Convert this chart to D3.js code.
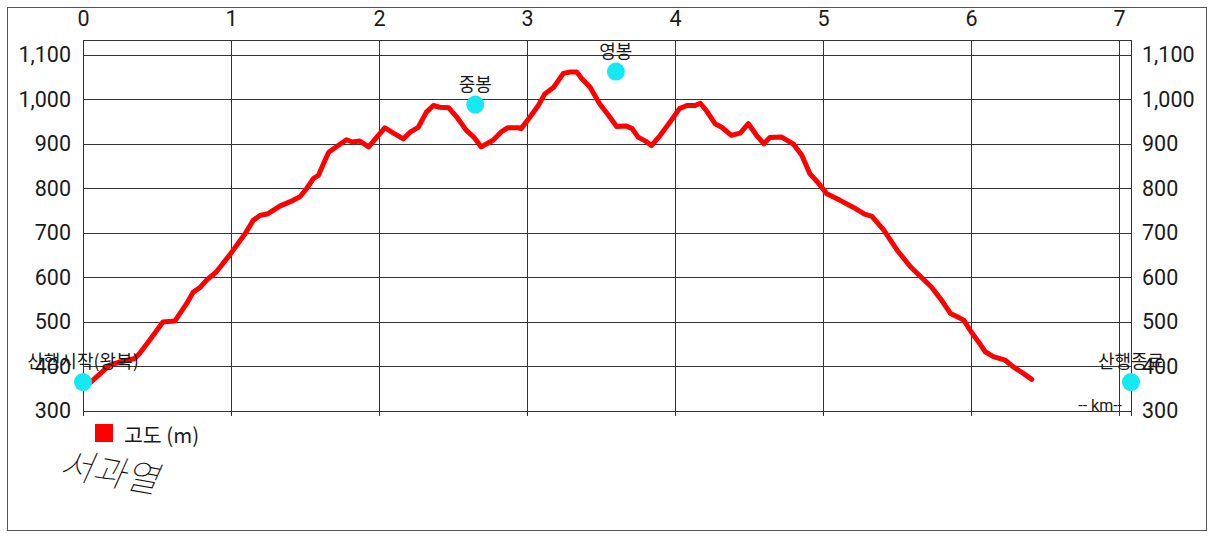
<!DOCTYPE html>
<html><head><meta charset="utf-8">
<script src="https://cdn.jsdelivr.net/npm/d3@7"></script>
<style>
html,body{margin:0;padding:0;background:#fff;}
svg{display:block;}
</style></head>
<body>
<svg id="c" width="1214" height="539"></svg>
<script>
// ---- data ----
const distKm = [0.047,0.18,0.25,0.35,0.385,0.45,0.54,0.62,0.70,0.745,0.79,0.835,0.90,0.99,1.095,1.15,1.195,1.25,1.33,1.42,1.466,1.51,1.556,1.59,1.635,1.66,1.714,1.78,1.82,1.87,1.93,1.985,2.04,2.097,2.164,2.21,2.265,2.32,2.367,2.41,2.47,2.525,2.59,2.64,2.69,2.77,2.83,2.87,2.94,2.96,3.02,3.076,3.12,3.18,3.245,3.29,3.336,3.37,3.426,3.49,3.55,3.605,3.67,3.71,3.75,3.80,3.84,3.90,3.966,4.03,4.08,4.135,4.17,4.21,4.27,4.315,4.38,4.44,4.495,4.55,4.60,4.64,4.72,4.80,4.856,4.91,4.957,5.025,5.115,5.205,5.28,5.33,5.41,5.50,5.59,5.67,5.73,5.80,5.86,5.91,5.95,6.00,6.05,6.095,6.15,6.23,6.285,6.35,6.41];
const elevM = [363,403,410,418,430,459,500,502,541,567,577,594,612,650,698,728,739,743,760,773,781,799,822,829,863,881,894,909,904,906,893,915,936,924,911,926,937,971,986,982,981,960,930,915,893,908,928,936,936,934,960,986,1012,1027,1058,1061,1061,1046,1027,990,964,939,940,934,915,906,896,919,949,979,986,986,991,975,945,937,919,924,945,919,900,914,915,899,874,833,816,788,773,757,742,737,706,661,624,598,579,549,519,511,504,478,455,433,422,414,399,385,371];
const markerNames = ["산행시작(왕복)", "중봉", "영봉", "산행종료"];
const markerKm = [0, 2.65, 3.6, 7.08];
const markerElev = [365, 988, 1062, 365];
const xTicks = [0,1,2,3,4,5,6,7];
const yTicks = [300,400,500,600,700,800,900,1000,1100];
const xDomain = [0, 7.08];
const yDomain = [300, 1133];
const legendLabel = "고도 (m)";
const unitLabel = "-- km--";
const signature = "서과열";

// ---- layout ----
const L = 83, R = 1131, T = 40, B = 411;
const svg = d3.select("#c");
const x = d3.scaleLinear().domain(xDomain).range([L, R]);
const y = d3.scaleLinear().domain(yDomain).range([B, T]);
const numFont = "Roboto, 'Noto Sans', sans-serif";
const krFont = "'Noto Sans CJK KR', 'Noto Sans', sans-serif";

// outer frame
svg.append("rect").attr("x", 7.5).attr("y", 7.5).attr("width", 1199).attr("height", 523)
  .attr("fill", "#fff").attr("stroke", "#555").attr("stroke-width", 1);

const grid = svg.append("g").attr("stroke", "#333").attr("stroke-width", 1).attr("shape-rendering", "crispEdges");
grid.selectAll("line.h").data(yTicks).join("line").attr("class", "h")
  .attr("x1", L).attr("x2", R).attr("y1", d => Math.round(y(d)) + 0.5).attr("y2", d => Math.round(y(d)) + 0.5);
grid.append("line").attr("x1", L).attr("x2", R).attr("y1", T + 0.5).attr("y2", T + 0.5);
grid.selectAll("line.v").data(xTicks).join("line").attr("class", "v")
  .attr("x1", d => Math.round(x(d)) + 0.5).attr("x2", d => Math.round(x(d)) + 0.5)
  .attr("y1", T).attr("y2", B + 5);
grid.append("line").attr("x1", R + 0.5).attr("x2", R + 0.5).attr("y1", T).attr("y2", B + 5);

// axes
const topAx = svg.append("g").attr("transform", `translate(0,${T})`)
  .call(d3.axisTop(x).tickValues(xTicks).tickSize(0).tickPadding(14).tickFormat(d3.format("d")));
const leftAx = svg.append("g").attr("transform", `translate(${L},0)`)
  .call(d3.axisLeft(y).tickValues(yTicks).tickSize(0).tickPadding(12).tickFormat(d3.format(",")));
const rightAx = svg.append("g").attr("transform", `translate(${R},0)`)
  .call(d3.axisRight(y).tickValues(yTicks).tickSize(0).tickPadding(11).tickFormat(d3.format(",")));
[topAx, leftAx, rightAx].forEach(g => {
  g.select(".domain").remove();
  g.selectAll("text").attr("font-family", numFont).attr("font-size", 21.5).attr("fill", "#1a1a1a");
});

// elevation line
const pts = distKm.map((d, i) => [d, elevM[i]]);
svg.append("path").datum(pts)
  .attr("fill", "none").attr("stroke", "#f00").attr("stroke-width", 5)
  .attr("stroke-linejoin", "round").attr("stroke-linecap", "round")
  .attr("d", d3.line().x(d => x(d[0])).y(d => y(d[1])));

// markers
const mk = markerNames.map((n, i) => ({ n, k: markerKm[i], e: markerElev[i] }));
svg.selectAll("circle.m").data(mk).join("circle").attr("class", "m")
  .attr("cx", d => x(d.k)).attr("cy", d => y(d.e)).attr("r", 9).attr("fill", "#14e8f0");
svg.selectAll("text.m").data(mk).join("text").attr("class", "m")
  .attr("x", d => x(d.k)).attr("y", d => y(d.e) - 14)
  .attr("text-anchor", "middle").attr("font-family", krFont).attr("font-size", 18).attr("fill", "#1a1a1a")
  .text(d => d.n);

// unit label
svg.append("text").attr("x", 1122).attr("y", 411).attr("text-anchor", "end")
  .attr("font-family", numFont).attr("font-size", 16).attr("fill", "#1a1a1a").text(unitLabel);

// legend
svg.append("rect").attr("x", 95).attr("y", 424).attr("width", 18).attr("height", 18).attr("fill", "#f00");
svg.append("text").attr("x", 124).attr("y", 443).attr("font-family", krFont).attr("font-size", 20.5)
  .attr("fill", "#1a1a1a").text(legendLabel);

// signature
svg.append("text").attr("transform", "translate(58,476) rotate(10) skewX(-14)")
  .attr("font-family", krFont).attr("font-weight", 100).attr("font-size", 36)
  .attr("fill", "#111").text(signature);
</script>
</body></html>
